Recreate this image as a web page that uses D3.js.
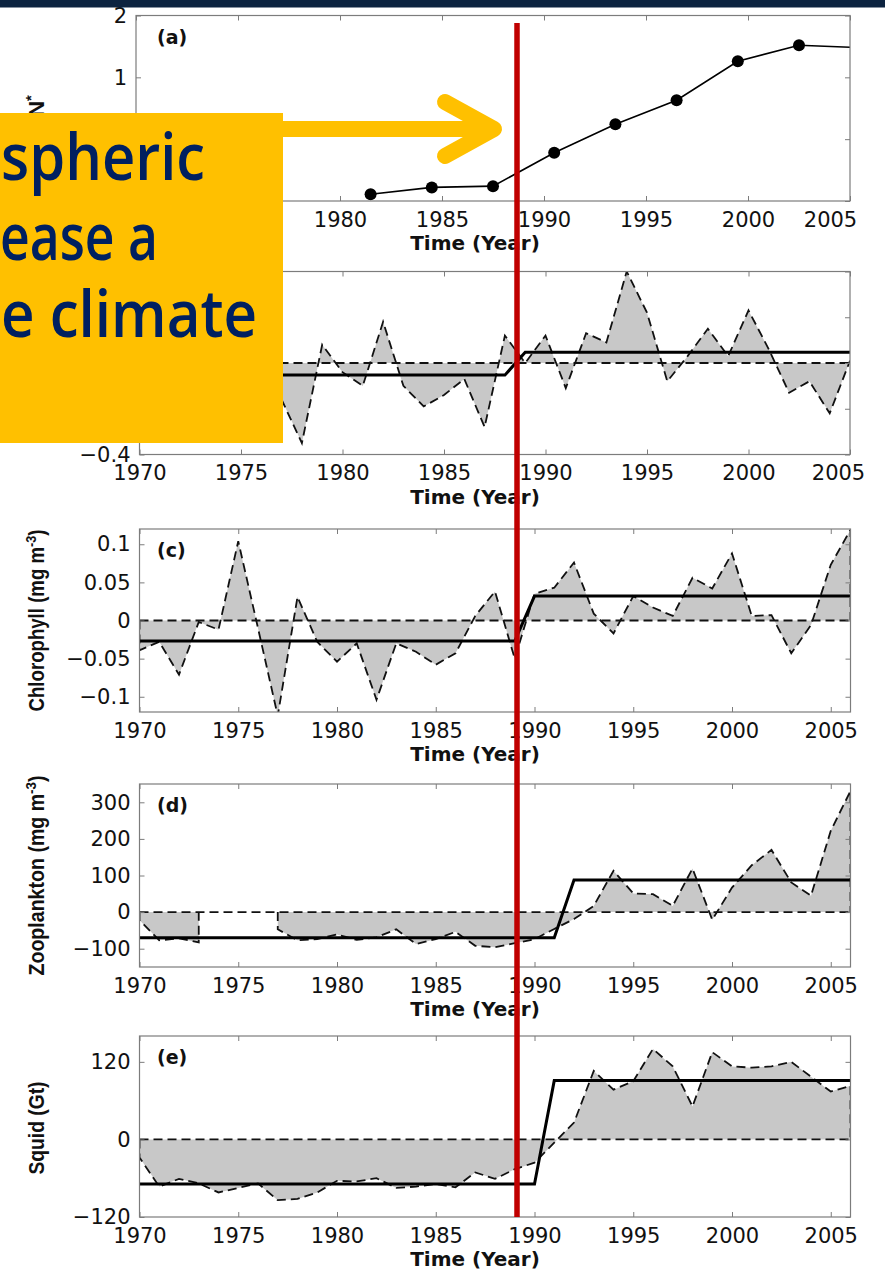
<!DOCTYPE html>
<html>
<head>
<meta charset="utf-8">
<script src="https://cdn.jsdelivr.net/npm/d3@7"></script>
<style>
  body { margin: 0; background: #fff; }
  svg { display: block; }
</style>
</head>
<body>
<script>
// ---- data ----

// (a) N* anomaly, 3-year points (last one sits just past the axis)
var nYears = [1981.5, 1984.5, 1987.5, 1990.5, 1993.5, 1996.5, 1999.5, 2002.5, 2005.5];
var nValues = [-0.89, -0.78, -0.76, -0.22, 0.24, 0.63, 1.26, 1.52, 1.48];

// (b) 1970-2005 (first years are hidden under the callout box)
var yearsB = [1970, 1971, 1972, 1973, 1974, 1975, 1976, 1977, 1978, 1979,
  1980, 1981, 1982, 1983, 1984, 1985, 1986, 1987, 1988, 1989,
  1990, 1991, 1992, 1993, 1994, 1995, 1996, 1997, 1998, 1999,
  2000, 2001, 2002, 2003, 2004, 2005];
var bValues = [-0.05, 0.10, -0.12, 0.05, -0.20, 0.02, -0.08, -0.16, -0.35, 0.08,
  -0.04, -0.10, 0.18, -0.10, -0.19, -0.14, -0.07, -0.28, 0.12, 0.00,
  0.12, -0.11, 0.13, 0.09, 0.40, 0.22, -0.08, 0.03, 0.15, 0.03,
  0.23, 0.06, -0.13, -0.08, -0.22, 0.01];
var bStepYears = [1970, 1988, 1989, 2005];
var bStepValues = [-0.053, -0.053, 0.047, 0.047];

// (c)-(e) 1970-2006
var years = [1970, 1971, 1972, 1973, 1974, 1975, 1976, 1977, 1978, 1979,
  1980, 1981, 1982, 1983, 1984, 1985, 1986, 1987, 1988, 1989,
  1990, 1991, 1992, 1993, 1994, 1995, 1996, 1997, 1998, 1999,
  2000, 2001, 2002, 2003, 2004, 2005, 2006];

var chlValues = [-0.039, -0.028, -0.071, -0.002, -0.012, 0.104, -0.010, -0.125, 0.031, -0.028,
  -0.054, -0.030, -0.104, -0.030, -0.041, -0.058, -0.043, 0.006, 0.038, -0.050,
  0.035, 0.043, 0.076, 0.009, -0.017, 0.032, 0.017, 0.006, 0.056, 0.042,
  0.088, 0.006, 0.007, -0.043, -0.006, 0.073, 0.119];
var chlStepYears = [1970, 1989, 1990, 2006];
var chlStepValues = [-0.027, -0.027, 0.032, 0.032];

var zooValues = [-22, -77, -72, -83, null, null, null, -47, -77, -74,
  -61, -76, -69, -47, -87, -74, -54, -92, -96, -85,
  -74, -46, -19, 17, 113, 51, 49, 17, 119, -21,
  67, 128, 170, 81, 45, 222, 331];
var zooStepYears = [1970, 1991, 1992, 2006];
var zooStepValues = [-70, -70, 88, 88];

var squidValues = [-28, -73, -61, -68, -82, -75, -68, -94, -92, -82,
  -64, -65, -60, -75, -73, -69, -74, -51, -61, -46,
  -36, -5, 26, 106, 77, 90, 140, 113, 51, 135,
  113, 111, 113, 120, 97, 74, 83];
var squidStepYears = [1970, 1990, 1991, 2006];
var squidStepValues = [-69, -69, 91, 91];

// tick labels
var xTicks = [1970, 1975, 1980, 1985, 1990, 1995, 2000, 2005];
var aTicks = [-1, 0, 1, 2];
var bTicks = [-0.4, -0.2, 0, 0.2, 0.4];
var cTicks = [-0.1, -0.05, 0, 0.05, 0.1];
var dTicks = [-100, 0, 100, 200, 300];
var eTicks = [-120, 0, 120];

var calloutLines = ["spheric", "ease a", "e climate"];

// ---- set up ----
var svgWidth = 885, svgHeight = 1285;

var svg = d3.select("body").append("svg")
  .attr("width", svgWidth)
  .attr("height", svgHeight);

var defs = svg.append("defs");

var tickFont = "'DejaVu Sans', sans-serif";
var boxColor = "#7c7c7c";
var lineDash = "9,5";

function fmt(d) {
  return d < 0 ? "\u2212" + Math.abs(d) : String(d);
}

// one MATLAB-style panel: box, inward ticks on all sides, labels
function makePanel(cfg) {
  var x = d3.scaleLinear().domain(cfg.xDomain).range([cfg.left, cfg.right]);
  var y = d3.scaleLinear().domain(cfg.yDomain).range([cfg.bottom, cfg.top]);
  var g = svg.append("g");

  defs.append("clipPath").attr("id", "clip-" + cfg.name)
    .append("rect")
    .attr("x", cfg.left).attr("y", cfg.top)
    .attr("width", cfg.right - cfg.left)
    .attr("height", cfg.bottom - cfg.top);

  var plot = g.append("g").attr("clip-path", "url(#clip-" + cfg.name + ")");

  var bottom = g.append("g")
    .attr("transform", "translate(0," + cfg.bottom + ")")
    .call(d3.axisBottom(x).tickValues(xTicks).tickFormat(d3.format("d"))
      .tickSizeInner(-5).tickSizeOuter(0).tickPadding(11));
  var left = g.append("g")
    .attr("transform", "translate(" + cfg.left + ",0)")
    .call(d3.axisLeft(y).tickValues(cfg.yTicks).tickFormat(fmt)
      .tickSizeInner(-5).tickSizeOuter(0).tickPadding(9));
  var top = g.append("g")
    .attr("transform", "translate(0," + cfg.top + ")")
    .call(d3.axisTop(x).tickValues(xTicks).tickFormat("").tickSizeInner(-5).tickSizeOuter(0));
  var right = g.append("g")
    .attr("transform", "translate(" + cfg.right + ",0)")
    .call(d3.axisRight(y).tickValues(cfg.yTicks).tickFormat("").tickSizeInner(-5).tickSizeOuter(0));

  [bottom, left, top, right].forEach(function(a) {
    a.select(".domain").remove();
    a.selectAll(".tick line").attr("stroke", boxColor);
    a.attr("font-family", tickFont).attr("font-size", 21);
    a.selectAll(".tick text").attr("fill", "#111");
  });

  // labels that sit under the callout box are not drawn
  var hx = cfg.hiddenX || [], hy = cfg.hiddenY || [];
  bottom.selectAll(".tick text").filter(function(d) { return hx.indexOf(d) >= 0; }).remove();
  left.selectAll(".tick text").filter(function(d) { return hy.indexOf(d) >= 0; }).remove();

  if (cfg.lastLabelShift) {
    bottom.selectAll(".tick text").filter(function(d) { return d === 2005; })
      .attr("dx", cfg.lastLabelShift);
  }

  g.append("rect")
    .attr("class", "frame")
    .attr("x", cfg.left).attr("y", cfg.top)
    .attr("width", cfg.right - cfg.left)
    .attr("height", cfg.bottom - cfg.top)
    .attr("fill", "none")
    .attr("stroke", boxColor)
    .attr("stroke-width", 1.2);

  // x title
  g.append("text")
    .attr("x", 475).attr("y", cfg.bottom + 49)
    .attr("text-anchor", "middle")
    .attr("font-family", tickFont).attr("font-weight", "bold").attr("font-size", 20)
    .attr("fill", "#111")
    .text("Time (Year)");

  // panel letter
  if (cfg.letter) {
    g.append("text")
      .attr("x", 157).attr("y", cfg.top + 28)
      .attr("font-family", tickFont).attr("font-weight", "bold").attr("font-size", 19)
      .attr("fill", "#111")
      .text(cfg.letter);
  }

  // y title (rotated)
  if (cfg.yLabel) {
    var cy = cfg.yLabelY || (cfg.top + cfg.bottom) / 2;
    var t = g.append("text")
      .attr("transform", "translate(44," + cy + ") rotate(-90)")
      .attr("text-anchor", "middle")
      .attr("font-family", "'Liberation Sans Narrow', 'Liberation Sans', Arial, sans-serif")
      .attr("font-weight", "bold").attr("font-size", 22)
      .attr("fill", "#111");
    t.append("tspan").text(cfg.yLabel);
    if (cfg.ySup) {
      t.append("tspan").attr("baseline-shift", "super").attr("font-size", 15).text(cfg.ySup);
    }
    if (cfg.yTail) t.append("tspan").text(cfg.yTail);
    if (cfg.yLength) t.attr("textLength", cfg.yLength).attr("lengthAdjust", "spacingAndGlyphs");
  }

  return { x: x, y: y, plot: plot, g: g, cfg: cfg };
}

// anomaly series: grey fill to zero, dashed outline, dashed zero line, regime means
function anomaly(p, xs, vals, stepXs, stepVals) {
  var x = p.x, y = p.y;
  var pts = d3.zip(xs, vals);

  var area = d3.area()
    .defined(function(d) { return d[1] != null; })
    .x(function(d) { return x(d[0]); })
    .y0(y(0))
    .y1(function(d) { return y(d[1]); });

  p.plot.append("path").datum(pts)
    .attr("d", area)
    .attr("fill", "#c8c8c8")
    .attr("stroke", "none");

  // split into runs of defined values
  var runs = [], cur = [];
  pts.forEach(function(d) {
    if (d[1] == null) { if (cur.length) runs.push(cur); cur = []; }
    else cur.push(d);
  });
  if (cur.length) runs.push(cur);

  var line = d3.line().x(function(d) { return x(d[0]); }).y(function(d) { return y(d[1]); });

  p.plot.append("line")
    .attr("x1", p.cfg.left).attr("x2", p.cfg.right)
    .attr("y1", y(0)).attr("y2", y(0))
    .attr("stroke", "#111").attr("stroke-width", 1.8)
    .attr("stroke-dasharray", lineDash);

  runs.forEach(function(r) {
    var outline = [[r[0][0], 0]].concat(r, [[r[r.length - 1][0], 0]]);
    p.plot.append("path").datum(outline)
      .attr("d", line)
      .attr("fill", "none")
      .attr("stroke", "#111").attr("stroke-width", 1.8)
      .attr("stroke-dasharray", lineDash);
  });

  p.plot.append("path").datum(d3.zip(stepXs, stepVals))
    .attr("d", line)
    .attr("fill", "none")
    .attr("stroke", "#000").attr("stroke-width", 3);

  p.g.select(".frame").raise();
}

// ---- panels ----
var pa = makePanel({ name: "a", letter: "(a)", left: 136, right: 850, top: 15.5, bottom: 201,
  xDomain: [1970, 2005], yDomain: [-1, 2], yTicks: aTicks, lastLabelShift: -20,
  hiddenX: [1970, 1975], hiddenY: [-1, 0],
  yLabel: "N", ySup: "*", yLabelY: 106 });

var nLine = d3.line().x(function(d) { return pa.x(d[0]); }).y(function(d) { return pa.y(d[1]); });
pa.plot.append("path").datum(d3.zip(nYears, nValues))
  .attr("d", nLine).attr("fill", "none").attr("stroke", "#000").attr("stroke-width", 1.6);
pa.plot.selectAll("circle").data(d3.zip(nYears, nValues)).enter()
  .append("circle")
  .attr("cx", function(d) { return pa.x(d[0]); })
  .attr("cy", function(d) { return pa.y(d[1]); })
  .attr("r", 6)
  .attr("fill", "#000");

var pb = makePanel({ name: "b", letter: "", left: 139.5, right: 850, top: 271.5, bottom: 454.5,
  xDomain: [1970, 2005], yDomain: [-0.4, 0.4], yTicks: bTicks, lastLabelShift: -12,
  hiddenY: [-0.2, 0, 0.2, 0.4] });
anomaly(pb, yearsB, bValues, bStepYears, bStepValues);

var pc = makePanel({ name: "c", letter: "(c)", left: 139.5, right: 850.5, top: 529, bottom: 712,
  xDomain: [1970, 2006], yDomain: [-0.12, 0.12], yTicks: cTicks,
  yLabel: "Chlorophyll (mg m", ySup: "-3", yTail: ")", yLength: 182 });
anomaly(pc, years, chlValues, chlStepYears, chlStepValues);

var pd = makePanel({ name: "d", letter: "(d)", left: 139.5, right: 850.5, top: 784, bottom: 967,
  xDomain: [1970, 2006], yDomain: [-150, 350], yTicks: dTicks,
  yLabel: "Zooplankton (mg m", ySup: "-3", yTail: ")", yLength: 200 });
anomaly(pd, years, zooValues, zooStepYears, zooStepValues);

var pe = makePanel({ name: "e", letter: "(e)", left: 139.5, right: 850.5, top: 1036, bottom: 1217,
  xDomain: [1970, 2006], yDomain: [-120, 160], yTicks: eTicks,
  yLabel: "Squid (Gt)", yLength: 93, yLabelY: 1128 });
anomaly(pe, years, squidValues, squidStepYears, squidStepValues);

// ---- overlays ----
// top navy strip
svg.append("rect").attr("x", 0).attr("y", 0).attr("width", svgWidth).attr("height", 7.5)
  .attr("fill", "#0c2340");

// red marker line at the regime shift
svg.append("line")
  .attr("x1", 517).attr("x2", 517).attr("y1", 23).attr("y2", 1217)
  .attr("stroke", "#c00000").attr("stroke-width", 5.5);

// yellow callout box
svg.append("rect").attr("x", 0).attr("y", 113).attr("width", 283).attr("height", 330)
  .attr("fill", "#ffc000");

// text is cropped at the left edge in the source; fit each line to its visible width
var calloutX = [1, 0, 1];
var calloutW = [204, 158, 256];
var calloutY = [180, 260, 337];
svg.selectAll(".callout").data(calloutLines).enter()
  .append("text")
  .attr("class", "callout")
  .attr("x", function(d, i) { return calloutX[i]; })
  .attr("y", function(d, i) { return calloutY[i]; })
  .attr("textLength", function(d, i) { return calloutW[i]; })
  .attr("lengthAdjust", "spacingAndGlyphs")
  .attr("font-family", "'Open Sans', sans-serif")
  .attr("font-weight", 600)
  .attr("font-size", 66)
  .attr("fill", "#002060")
  .text(function(d) { return d; });

// arrow
svg.append("line")
  .attr("x1", 283).attr("x2", 488).attr("y1", 129).attr("y2", 129)
  .attr("stroke", "#ffc000").attr("stroke-width", 16);
svg.append("path")
  .attr("d", "M445,102 L494,129 L445,156")
  .attr("fill", "none")
  .attr("stroke", "#ffc000").attr("stroke-width", 16)
  .attr("stroke-linecap", "round").attr("stroke-linejoin", "round");
</script>
</body>
</html>
